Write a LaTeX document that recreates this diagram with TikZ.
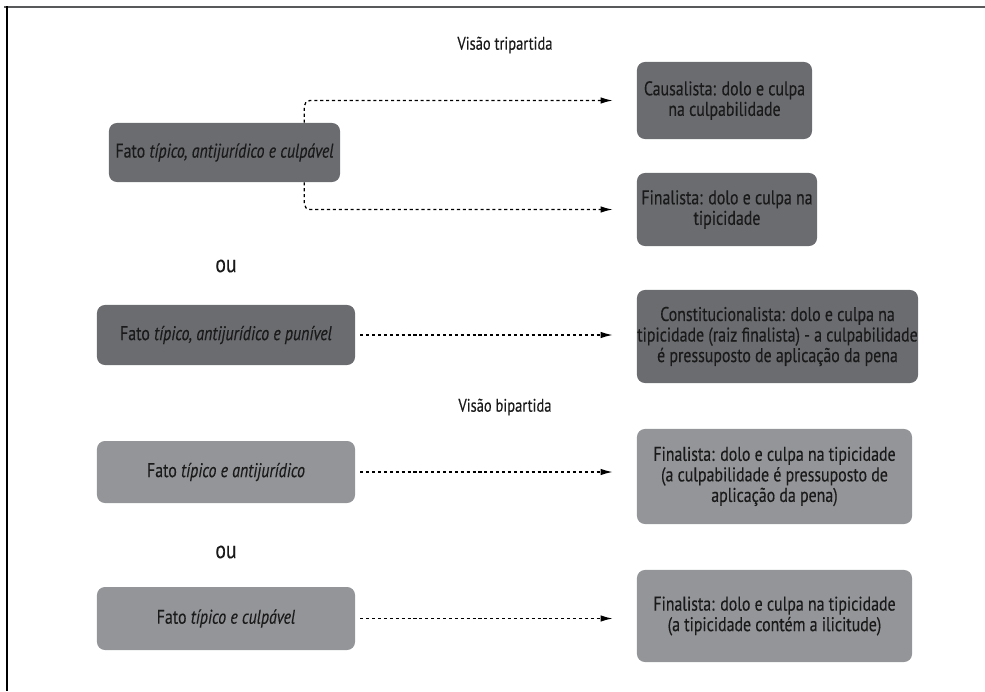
\documentclass[tikz,border=0pt]{standalone}
\usepackage{fontspec}
\setmainfont{PT Sans}[FakeStretch=0.8, FakeBold=0.3]
\usetikzlibrary{arrows.meta}
\definecolor{boxdark}{HTML}{6B6C70}
\definecolor{boxlight}{HTML}{939598}
\definecolor{inkgray}{HTML}{1A1A1A}
\definecolor{framegray}{HTML}{58595B}
\tikzset{
  darkbox/.style={fill=boxdark, rounded corners=0.2cm, align=center, inner sep=0pt,
    text=inkgray, font=\fontsize{14.1}{14.6}\selectfont},
  lightbox/.style={darkbox, fill=boxlight},
  flow/.style={-{Latex[length=0.3cm,width=0.16cm]}, dash pattern=on 2.2pt off 2pt, line width=0.9pt},
  heading/.style={text=inkgray, font=\fontsize{12.9}{14}\selectfont},
  orword/.style={text=inkgray, font=\fontsize{17.5}{19}\selectfont},
}

\begin{document}
\begin{tikzpicture}[x=0.025cm,y=-0.025cm]
      \useasboundingbox (0,0) rectangle (985,691);
      \draw[framegray, line width=1.6pt] (4,7) -- (985,7);
      \draw[line width=1pt] (7,6) -- (7,691);
      \draw
        (505,45) node[heading] (tri){Visão tripartida}
        (224.5,152.5) node[darkbox, minimum width=5.775cm, minimum height=1.475cm] (a1){Fato \textit{típico, antijurídico e culpável}}
        (724.5,100.5) node[darkbox, minimum width=4.375cm, minimum height=1.925cm] (b1){Causalista: dolo e culpa\\na culpabilidade}
        (727,209.5) node[darkbox, minimum width=4.5cm, minimum height=1.825cm] (b2){Finalista: dolo e culpa na\\tipicidade}
        (226,266) node[orword] (ou1){ou}
        (226,335) node[darkbox, minimum width=6.45cm, minimum height=1.5cm] (a2){Fato \textit{típico, antijurídico e punível}}
        (777.5,336.5) node[darkbox, minimum width=7.025cm, minimum height=2.325cm] (b3){Constitucionalista: dolo e culpa na\\tipicidade (raiz finalista) - a culpabilidade\\é pressuposto de aplicação da pena}
        (505,407) node[heading] (bi){Visão bipartida}
        (226,472) node[lightbox, minimum width=6.45cm, minimum height=1.55cm] (a3){Fato \textit{típico e antijurídico}}
        (774.5,476.5) node[lightbox, minimum width=6.875cm, minimum height=2.375cm] (b4){Finalista: dolo e culpa na tipicidade\\(a culpabilidade é pressuposto de\\aplicação da pena)}
        (226,552) node[orword] (ou2){ou}
        (226,618.5) node[lightbox, minimum width=6.45cm, minimum height=1.575cm] (a4){Fato \textit{típico e culpável}}
        (774.5,616) node[lightbox, minimum width=6.875cm, minimum height=2.3cm] (b5){Finalista: dolo e culpa na tipicidade\\(a tipicidade contém a ilicitude)};
      \begin{scope}[flow, shorten >=0.6cm]
        \draw[rounded corners=4pt] ([xshift=-0.9cm]a1.north east) |- (b1.west);
        \draw[rounded corners=4pt] ([xshift=-0.9cm]a1.south east) |- (b2.west);
        \draw[shorten <=0.125cm] (a2.east) -- (a2.east -| b3.west);
        \draw[shorten <=0.125cm] (a3.east) -- (a3.east -| b4.west);
        \draw[shorten <=0.125cm] (a4.east) -- (a4.east -| b5.west);
      \end{scope}
    \end{tikzpicture}
\end{document}
